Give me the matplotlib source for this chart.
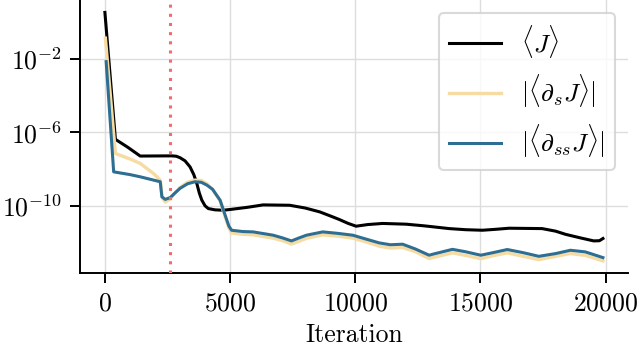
import numpy as np
import matplotlib
matplotlib.use('Agg')
import matplotlib.pyplot as plt

plt.rcParams['font.family'] = 'serif'
plt.rcParams['font.serif'] = ['cmr10']
plt.rcParams['mathtext.fontset'] = 'cm'
plt.rcParams['axes.formatter.use_mathtext'] = True
plt.rcParams['font.size'] = 18.5

# data (iteration, log10 value)
it_J = [0, 420, 900, 1410, 2670, 2850, 3000, 3200, 3400, 3550, 3670, 3770, 3870, 4000,
        4130, 4400, 4730, 5000, 5700, 6320, 7380, 8000, 8580, 9000, 9370, 9700, 10030,
        10500, 11090, 12030, 12750, 13750, 14400, 15070, 15600, 16140, 17460, 18000,
        18390, 19000, 19520, 19750, 19890]
logJ = [0.53, -6.38, -6.8, -7.29, -7.28, -7.3, -7.38, -7.55, -7.88, -8.3, -8.78, -9.3,
        -9.69, -10.0, -10.15, -10.22, -10.24, -10.2, -10.08, -9.95, -9.97, -10.12, -10.33,
        -10.55, -10.75, -10.95, -11.11, -11.02, -10.96, -11.0, -11.09, -11.24, -11.3,
        -11.33, -11.28, -11.22, -11.24, -11.38, -11.55, -11.75, -11.91, -11.9, -11.78]

it_s = [20, 420, 1000, 1410, 1940, 2210, 2290, 2410, 2610, 2800, 3000, 3300, 3600,
        3850, 4070, 4300, 4450, 4600, 4800, 4950, 5060, 5500, 5920, 6720, 7100, 7450,
        7750, 8050, 8700, 9300, 9900, 10400, 10960, 11400, 11890, 12400, 12950, 13400,
        13880, 14400, 15010, 15500, 16070, 16700, 17330, 18000, 18590, 19190, 19890]
log_s = [-0.87, -7.15, -7.45, -7.69, -8.24, -8.6, -9.55, -9.8, -9.62, -9.3, -9.0,
         -8.72, -8.6, -8.62, -8.8, -9.1, -9.4, -9.72, -10.6, -11.2, -11.48, -11.55,
         -11.58, -11.76, -11.9, -12.08, -11.93, -11.77, -11.58, -11.65, -11.76, -11.95,
         -12.2, -12.3, -12.27, -12.5, -12.87, -12.72, -12.56, -12.7, -12.88, -12.72,
         -12.56, -12.75, -12.93, -12.75, -12.6, -12.7, -13.0]

it_ss = [50, 350, 1000, 1410, 2210, 2275, 2410, 2610, 2800, 3000, 3300, 3600, 3850,
         4070, 4300, 4450, 4600, 4800, 4950, 5060, 5500, 5920, 6720, 7100, 7450, 7750,
         8050, 8700, 9300, 9900, 10400, 10960, 11400, 11890, 12400, 12950, 13080, 13880,
         14400, 15010, 15500, 16070, 16700, 17330, 18000, 18590, 19190, 19890]
log_ss = [-2.15, -8.15, -8.3, -8.42, -8.69, -9.51, -9.65, -9.55, -9.3, -9.05, -8.8,
          -8.69, -8.72, -8.87, -9.1, -9.4, -9.69, -10.5, -11.1, -11.33, -11.4, -11.42,
          -11.6, -11.75, -11.91, -11.75, -11.6, -11.42, -11.5, -11.6, -11.8, -12.02,
          -12.12, -12.09, -12.35, -12.69, -12.64, -12.37, -12.5, -12.69, -12.55, -12.38,
          -12.55, -12.75, -12.6, -12.42, -12.51, -12.82]

switch_it = 2580

fig = plt.figure(figsize=(6.4, 3.46), dpi=100)
ax = fig.add_axes([0.125, 0.21, 0.856, 0.79])

ax.plot(it_J, 10.0 ** np.array(logJ), color='black', lw=2.2, label=r'$\langle J\rangle$')
ax.plot(it_s, 10.0 ** np.array(log_s), color='#f6dca2', lw=2.4,
        label=r'$|\langle\partial_s J\rangle|$')
ax.plot(it_ss, 10.0 ** np.array(log_ss), color='#2e6e92', lw=2.2,
        label=r'$|\langle\partial_{ss} J\rangle|$')
ax.axvline(switch_it, color='#f46b6b', ls=(0, (1, 2)), lw=2.2, zorder=5)

ax.set_yscale('log')
ax.set_yticks([1e-10, 1e-6, 1e-2])
ax.minorticks_off()
ax.set_xticks([0, 5000, 10000, 15000, 20000])
ax.set_xlabel('Iteration', labelpad=6)

ax.grid(True, color='#dddddd', lw=1.0)
ax.set_axisbelow(True)
for s in ['top', 'right']:
    ax.spines[s].set_visible(False)
for s in ['left', 'bottom']:
    ax.spines[s].set_linewidth(1.4)
ax.tick_params(direction='out', length=7, width=1.4, pad=6)

leg = ax.legend(loc='upper right', fancybox=True, framealpha=0.8)
leg.get_frame().set_edgecolor('#d0d0d0')
leg.get_frame().set_linewidth(1.5)

fig.savefig('out.png', dpi=100)
